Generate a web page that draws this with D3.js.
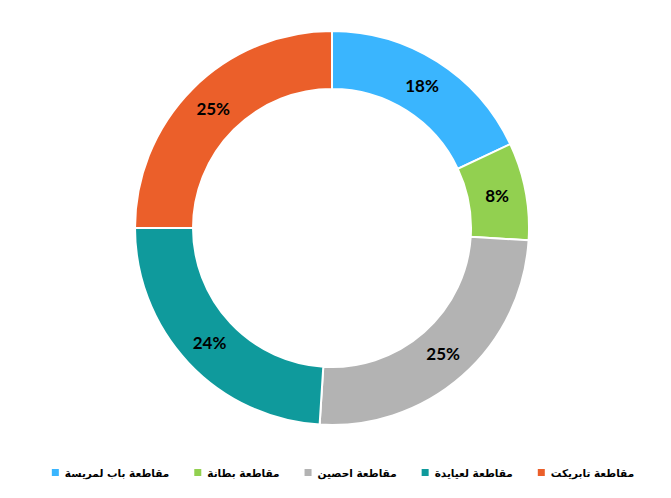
<!DOCTYPE html>
<html><head><meta charset="utf-8">
<script src="https://cdn.jsdelivr.net/npm/d3@7"></script>
<style>body{margin:0;background:#fff}svg{display:block}</style>
</head><body>
<svg id="c" width="671" height="498"></svg>
<script>
const categories = ["مقاطعة باب لمريسة","مقاطعة بطانة","مقاطعة احصين","مقاطعة لعيايدة","مقاطعة تابريكت"];
const values = [18, 8, 25, 24, 25];
const colors = ["#3AB5FE","#92D050","#B3B3B3","#0F9A9C","#EB5F2A"];

const svg = d3.select("#c");
const cx = 332, cy = 228, R = 197, r = 139;
const pie = d3.pie().sort(null).value(d => d)(values);
const arc = d3.arc().innerRadius(r).outerRadius(R);
const g = svg.append("g").attr("transform", `translate(${cx},${cy})`);
g.selectAll("path").data(pie).join("path")
  .attr("d", arc).attr("fill", (d,i) => colors[i])
  .attr("stroke", "#fff").attr("stroke-width", 2);
g.selectAll("text").data(pie).join("text")
  .attr("transform", d => `translate(${arc.centroid(d)})`)
  .attr("text-anchor","middle").attr("dy","0.35em")
  .style("font-family","Lato, 'Open Sans', sans-serif").style("font-weight","bold").style("font-size","17px")
  .attr("fill","#000")
  .text(d => d3.format(".0f")(d.data) + "%");

// legend
const lg = svg.append("g");
const items = lg.selectAll("g").data(categories).join("g");
items.append("rect").attr("width",7).attr("height",7).attr("y",-4).attr("fill",(d,i)=>colors[i]);
const texts = items.append("text").attr("x",13).attr("dy","0.35em")
  .style("font-family","'DejaVu Sans', sans-serif").style("font-weight","bold").style("font-size","10.5px")
  .attr("fill","#000").text(d=>d);
const widths = texts.nodes().map(n => 13 + n.getComputedTextLength());
const gap = 25;
const total = d3.sum(widths) + gap*(widths.length-1);
let x = 343 - total/2;
items.attr("transform",(d,i)=>{ const t=`translate(${x},473)`; x += widths[i]+gap; return t; });
</script>
</body></html>
